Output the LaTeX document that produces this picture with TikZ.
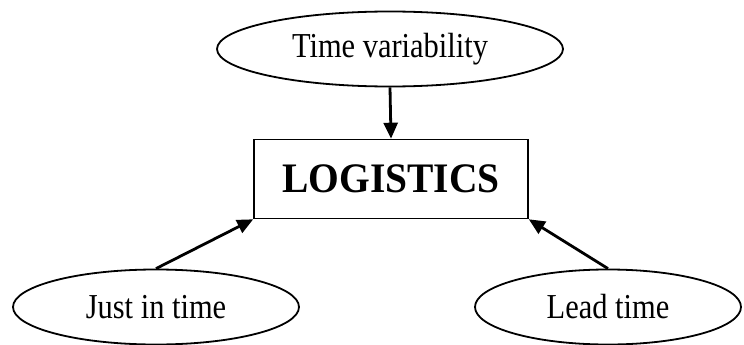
\documentclass[tikz,border=0pt]{standalone}
\usepackage{fontspec}
\usepackage{graphicx}
\setmainfont{Liberation Serif}
\usetikzlibrary{arrows.meta,shapes.geometric}
% narrow, tall lettering
\newcommand{\narrowtext}[2]{\scalebox{#1}[1]{#2}}
\tikzset{
  oval/.style={draw, ellipse, line width=1.8pt, inner sep=0pt,
    minimum width=#1, minimum height=75pt,
    font=\fontsize{35}{35}\selectfont},
  mainbox/.style={draw, rectangle, line width=1.6pt, inner sep=0pt,
    minimum width=274pt, minimum height=79pt,
    font=\fontsize{42}{42}\selectfont\bfseries},
  link/.style={line width=2.8pt, -{Triangle[length=16pt,width=14pt]}}
}
\begin{document}
\begin{tikzpicture}[x=1pt,y=1pt]
  \useasboundingbox (0,0) rectangle (744,-345);
  \node[oval=346pt] (tv) at (390,-49) {\narrowtext{0.87}{Time variability}};
  \node[mainbox] (log) at (391,-179) {\narrowtext{0.94}{LOGISTICS}};
  \node[oval=286pt] (jit) at (156,-307) {\narrowtext{0.87}{Just in time}};
  \node[oval=266pt] (lt) at (608,-307) {\narrowtext{0.87}{Lead time}};
  \draw[link] (tv.south) -- (log.north);
  \draw[link] (jit.north) -- (log.south west);
  \draw[link] (lt.north) -- (log.south east);
\end{tikzpicture}
\end{document}
